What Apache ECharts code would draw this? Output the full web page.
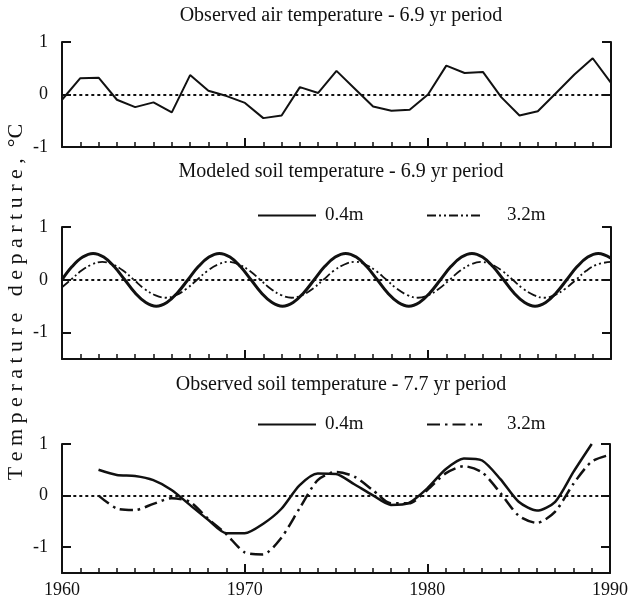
<!DOCTYPE html>
<html>
<head>
<meta charset="utf-8">
<script src="https://cdn.jsdelivr.net/npm/echarts@6/dist/echarts.min.js"></script>
<style>
  html, body { margin: 0; padding: 0; background: #fff; }
  #chart { width: 631px; height: 601px; }
</style>
</head>
<body>
<div id="chart"></div>
<script>
// ---------- DATA ----------
const titles = [
  'Observed air temperature - 6.9 yr period',
  'Modeled soil temperature - 6.9 yr period',
  'Observed soil temperature - 7.7 yr period'
];
const yAxisTitle = 'T e m p e r a t u r e   d e p a r t u r e ,  °C';
const xTickLabels = ['1960', '1970', '1980', '1990'];
const seriesNames = ['0.4m', '3.2m'];

// Panel 1: observed air temperature (annual)
const airYears = [1960,1961,1962,1963,1964,1965,1966,1967,1968,1969,1970,1971,1972,1973,1974,1975,
  1976,1977,1978,1979,1980,1981,1982,1983,1984,1985,1986,1987,1988,1989,1990];
const airValues = [-0.1,0.31,0.32,-0.1,-0.24,-0.15,-0.34,0.37,0.07,-0.03,-0.16,-0.45,-0.4,0.14,0.03,0.45,
  0.11,-0.23,-0.31,-0.29,0.0,0.55,0.41,0.43,-0.05,-0.4,-0.32,0.03,0.38,0.69,0.22];

// Panel 2: modeled soil temperature
const mod04Years = [1960.0,1960.55,1961.13,1961.7,1962.28,1962.85,1963.43,1964.0,1964.58,1965.15,1965.73,1966.3,
  1966.88,1967.45,1968.03,1968.6,1969.18,1969.75,1970.33,1970.9,1971.48,1972.05,1972.63,1973.2,
  1973.78,1974.35,1974.93,1975.5,1976.08,1976.65,1977.23,1977.8,1978.38,1978.95,1979.53,1980.1,
  1980.68,1981.25,1981.83,1982.4,1982.98,1983.55,1984.13,1984.7,1985.28,1985.85,1986.43,1987.0,
  1987.58,1988.15,1988.73,1989.3,1990.0];
const mod04Values = [0.0,0.25,0.43,0.5,0.43,0.25,0.0,-0.25,-0.43,-0.5,-0.43,-0.25,
  0.0,0.25,0.43,0.5,0.43,0.25,0.0,-0.25,-0.43,-0.5,-0.43,-0.25,
  0.0,0.25,0.43,0.5,0.43,0.25,0.0,-0.25,-0.43,-0.5,-0.43,-0.25,
  0.0,0.25,0.43,0.5,0.43,0.25,0.0,-0.25,-0.43,-0.5,-0.43,-0.25,
  0.0,0.25,0.43,0.5,0.41];
const mod32Years = [1960.0,1960.48,1961.05,1961.63,1962.2,1962.78,1963.35,1963.93,1964.5,1965.08,1965.65,1966.23,
  1966.8,1967.38,1967.95,1968.53,1969.1,1969.68,1970.25,1970.83,1971.4,1971.98,1972.55,1973.13,
  1973.7,1974.28,1974.85,1975.43,1976.0,1976.58,1977.15,1977.73,1978.3,1978.88,1979.45,1980.03,
  1980.6,1981.18,1981.75,1982.33,1982.9,1983.48,1984.05,1984.63,1985.2,1985.78,1986.35,1986.93,
  1987.5,1988.08,1988.65,1989.23,1990.0];
const mod32Values = [-0.14,0.0,0.17,0.29,0.34,0.29,0.17,0.0,-0.17,-0.29,-0.34,-0.29,
  -0.17,0.0,0.17,0.29,0.34,0.29,0.17,0.0,-0.17,-0.29,-0.34,-0.29,
  -0.17,0.0,0.17,0.29,0.34,0.29,0.17,0.0,-0.17,-0.29,-0.34,-0.29,
  -0.17,0.0,0.17,0.29,0.34,0.29,0.17,0.0,-0.17,-0.29,-0.34,-0.29,
  -0.17,0.0,0.17,0.29,0.34];

// Panel 3: observed soil temperature (annual)
const obs04Years = [1962,1963,1964,1965,1966,1967,1968,1969,1970,1971,1972,1973,1974,1975,1976,1977,
  1978,1979,1980,1981,1982,1983,1984,1985,1986,1987,1988,1989];
const obs04Values = [0.5,0.4,0.38,0.3,0.11,-0.18,-0.47,-0.73,-0.73,-0.55,-0.26,0.2,0.43,0.42,0.22,0.01,
  -0.18,-0.14,0.14,0.51,0.72,0.68,0.32,-0.12,-0.29,-0.12,0.46,1.0];
const obs32Years = [1962,1963,1964,1965,1966,1967,1968,1969,1970,1971,1972,1973,1974,1975,1976,1977,
  1978,1979,1980,1981,1982,1983,1984,1985,1986,1987,1988,1989,1990];
const obs32Values = [0.0,-0.25,-0.28,-0.16,-0.05,-0.12,-0.45,-0.75,-1.1,-1.14,-0.82,-0.25,0.3,0.46,0.37,0.11,
  -0.15,-0.15,0.11,0.43,0.57,0.45,0.05,-0.39,-0.53,-0.31,0.23,0.66,0.79];

// ---------- CHART ----------
const FONT = '"Liberation Serif", "Times New Roman", serif';
const INK = '#111';
const pairs = (xs, ys) => xs.map((x, i) => [x, ys[i]]);

const grids = [
  { left: 62, right: 20, top: 42, height: 105 },
  { left: 62, right: 20, top: 227, height: 132 },
  { left: 62, right: 20, top: 444, height: 129 }
];
const yRanges = [[-1, 1], [-1.5, 1], [-1.5, 1]];

const xAxes = grids.map((g, i) => ({
  type: 'value', gridIndex: i, min: 1960, max: 1990, interval: 10,
  axisLine: { show: true, onZero: false, lineStyle: { color: INK, width: 2 } },
  axisTick: { show: true, inside: true, length: 9, lineStyle: { color: INK, width: 2 } },
  minorTick: { show: true, splitNumber: 10, length: 5, lineStyle: { color: INK, width: 1.5 } },
  splitLine: { show: false },
  axisLabel: {
    show: i === 2, margin: 8, color: INK, fontFamily: FONT, fontSize: 18,
    formatter: v => xTickLabels[Math.round((v - 1960) / 10)] || ''
  }
}));

const yAxes = [];
grids.forEach((g, i) => {
  const [mn, mx] = yRanges[i];
  ['left', 'right'].forEach(pos => {
    yAxes.push({
      type: 'value', gridIndex: i, position: pos, min: mn, max: mx,
      axisLine: { show: true, onZero: false, lineStyle: { color: INK, width: 2 } },
      axisTick: { show: true, inside: true, length: 9, customValues: [-1, 0, 1], lineStyle: { color: INK, width: 2 } },
      splitLine: { show: false },
      axisLabel: {
        show: pos === 'left', customValues: [-1, 0, 1], margin: 14,
        color: INK, fontFamily: FONT, fontSize: 18
      }
    });
  });
});

const zeroLine = {
  silent: true, symbol: 'none', label: { show: false },
  lineStyle: { color: INK, type: [1.6, 4.4], width: 1.8, cap: 'round' },
  data: [{ yAxis: 0 }]
};

const series = [
  {
    name: 'air', type: 'line', xAxisIndex: 0, yAxisIndex: 0, data: pairs(airYears, airValues),
    symbol: 'none', itemStyle: { color: INK }, lineStyle: { color: INK, width: 2 }, markLine: zeroLine
  },
  {
    name: seriesNames[0], type: 'line', xAxisIndex: 1, yAxisIndex: 2, data: pairs(mod04Years, mod04Values),
    symbol: 'none', smooth: 0.4, itemStyle: { color: INK }, lineStyle: { color: INK, width: 3 }, markLine: zeroLine
  },
  {
    name: seriesNames[1], type: 'line', xAxisIndex: 1, yAxisIndex: 2, data: pairs(mod32Years, mod32Values),
    symbol: 'none', smooth: 0.4, itemStyle: { color: INK }, lineStyle: { color: INK, width: 1.8, type: [9, 3, 2, 3, 2, 3] }
  },
  {
    name: seriesNames[0] + ' ', type: 'line', xAxisIndex: 2, yAxisIndex: 4, data: pairs(obs04Years, obs04Values),
    symbol: 'none', smooth: 0.25, itemStyle: { color: INK }, lineStyle: { color: INK, width: 2.5 }, markLine: zeroLine
  },
  {
    name: seriesNames[1] + ' ', type: 'line', xAxisIndex: 2, yAxisIndex: 4, data: pairs(obs32Years, obs32Values),
    symbol: 'none', smooth: 0.25, itemStyle: { color: INK }, lineStyle: { color: INK, width: 2.5, type: [13, 5, 2.5, 5] }
  }
];

const legendText = { color: INK, fontFamily: FONT, fontSize: 19 };
const mkLegend = (name, left, cy, w, pad) => ({
  left: left, top: cy - 10, padding: 0, itemWidth: w, itemHeight: 20, itemGap: 0,
  selectedMode: false, data: [name],
  itemStyle: { opacity: 0 },
  textStyle: Object.assign({}, legendText, { padding: [0, 0, 0, pad] })
});

const option = {
  animation: false,
  backgroundColor: '#fff',
  title: titles.map((t, i) => ({
    text: t, left: 341, top: [6, 162, 375][i], textAlign: 'center', padding: 0,
    textStyle: { color: INK, fontFamily: FONT, fontSize: 20, fontWeight: 'normal' }
  })),
  legend: [
    mkLegend(seriesNames[0], 257, 216, 58, 4),
    mkLegend(seriesNames[1], 426, 216, 55, 20),
    mkLegend(seriesNames[0] + ' ', 257, 425, 58, 4),
    mkLegend(seriesNames[1] + ' ', 426, 425, 55, 20)
  ],
  grid: grids,
  xAxis: xAxes,
  yAxis: yAxes,
  series: series,
  graphic: [{
    type: 'text', x: 16, y: 302, rotation: Math.PI / 2, silent: true,
    style: { text: yAxisTitle, fill: INK, font: '22px ' + FONT, align: 'center', verticalAlign: 'middle' }
  }]
};

const chart = echarts.init(document.getElementById('chart'), null, { renderer: 'canvas' });
chart.setOption(option);
</script>
</body>
</html>
